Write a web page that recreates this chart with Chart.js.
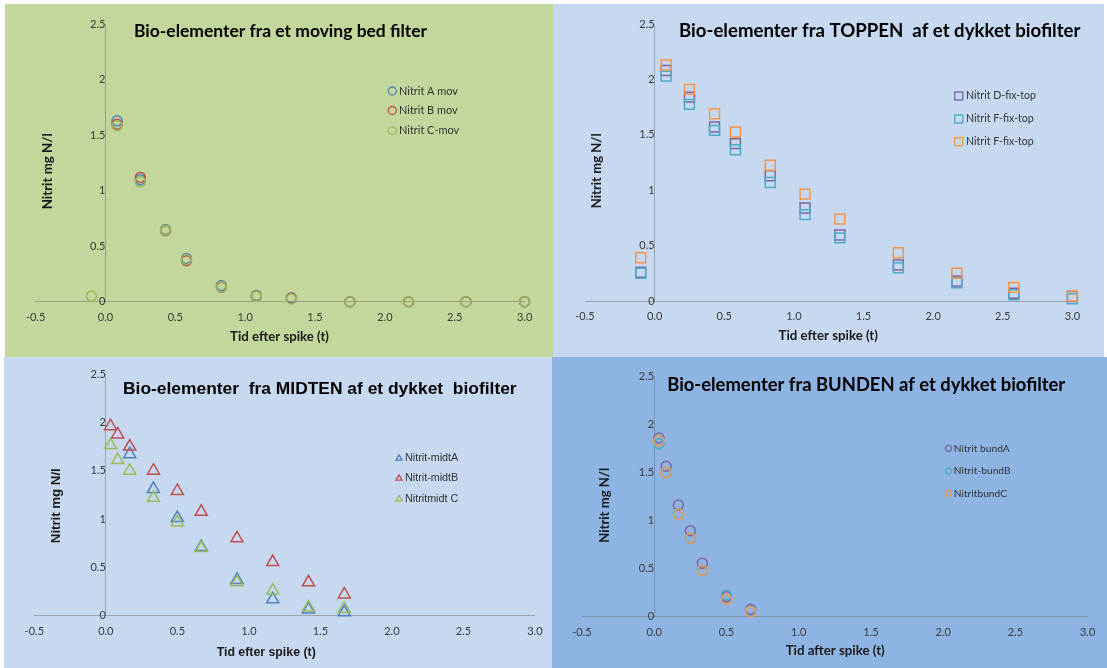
<!DOCTYPE html>
<html>
<head>
<meta charset="utf-8">
<script src="https://cdn.jsdelivr.net/npm/chart.js"></script>
<style>
  body { margin: 0; background: #fff; width: 1107px; height: 668px; overflow: hidden; position: relative; }
  .panel { position: absolute; }
  .panel canvas { position: absolute; left: 0; top: 0; }
</style>
</head>
<body>
<div class="panel" style="left:5px;top:4px;width:548px;height:353px;background:#c3d69b"><canvas id="c1" width="548" height="353"></canvas></div>
<div class="panel" style="left:553px;top:4px;width:551px;height:353px;background:#c6d9f1"><canvas id="c2" width="551" height="353"></canvas></div>
<div class="panel" style="left:4px;top:357px;width:548px;height:311px;background:#c6d9f1"><canvas id="c3" width="548" height="311"></canvas></div>
<div class="panel" style="left:552px;top:357px;width:555px;height:311px;background:#8db4e2"><canvas id="c4" width="555" height="311"></canvas></div>
<script>
// akser
var xTickVals = [-0.5, 0, 0.5, 1, 1.5, 2, 2.5, 3];
var yTickVals = [0, 0.5, 1, 1.5, 2, 2.5];

// moving bed
var tMov = [-0.1, 0.083, 0.25, 0.43, 0.58, 0.83, 1.08, 1.33, 1.75, 2.17, 2.58, 3.0];
var movNames = ['Nitrit A mov', 'Nitrit B mov', 'Nitrit C-mov'];
var movA = [null, 1.63, 1.10, 0.65, 0.39, 0.145, 0.057, 0.036, 0, 0, 0, 0];
var movB = [null, 1.60, 1.12, 0.64, 0.37, 0.13, 0.048, 0.03, 0, 0, 0, 0];
var movC = [0.05, 1.585, 1.08, 0.645, 0.38, 0.135, 0.048, 0.024, 0, 0, 0, 0];

// toppen
var tTop = [-0.1, 0.083, 0.25, 0.43, 0.58, 0.83, 1.08, 1.33, 1.75, 2.17, 2.58, 3.0];
var topNames = ['Nitrit D-fix-top', 'Nitrit F-fix-top', 'Nitrit F-fix-top'];
var topD = [0.26, 2.08, 1.84, 1.57, 1.42, 1.13, 0.84, 0.595, 0.325, 0.18, 0.07, 0.04];
var topE = [0.25, 2.03, 1.775, 1.54, 1.365, 1.07, 0.78, 0.57, 0.30, 0.165, 0.057, 0.02];
var topF = [0.39, 2.13, 1.91, 1.69, 1.525, 1.225, 0.965, 0.74, 0.435, 0.25, 0.123, 0.045];

// midten
var tMidt = [0.033, 0.083, 0.167, 0.333, 0.5, 0.667, 0.917, 1.167, 1.417, 1.667];
var midtNames = ['Nitrit-midtA', 'Nitrit-midtB', 'Nitritmidt C'];
var midtA = [null, null, 1.67, 1.31, 1.01, 0.71, 0.37, 0.17, 0.065, 0.035];
var midtB = [1.96, 1.875, 1.75, 1.50, 1.29, 1.075, 0.80, 0.555, 0.345, 0.22];
var midtC = [1.765, 1.61, 1.50, 1.22, 0.965, 0.70, 0.345, 0.26, 0.085, 0.07];

// bunden
var tBund = [0.033, 0.083, 0.167, 0.25, 0.333, 0.5, 0.667];
var bundNames = ['Nitrit bundA', 'Nitrit-bundB', 'NitritbundC'];
var bundA = [1.86, 1.565, 1.16, 0.89, 0.55, 0.20, 0.07];
var bundB = [1.80, 1.50, 1.07, 0.81, 0.475, 0.22, 0.056];
var bundC = [1.83, 1.50, 1.065, 0.81, 0.475, 0.175, 0.045];

var blueRedGreen = ['#4f81bd', '#c0504d', '#9bbb59'];
var purpleAquaOrange = ['#8064a2', '#4bacc6', '#f79646'];

function pts(xs, ys) {
  var out = [];
  for (var i = 0; i < xs.length; i++) {
    if (ys[i] !== null) out.push({ x: xs[i], y: ys[i] });
  }
  return out;
}

function fitSize(ctx, text, weight, family, width) {
  ctx.font = weight + ' 100px "' + family + '"';
  return 100 * width / ctx.measureText(text).width;
}

function marker(ctx, style, x, y, r, color) {
  ctx.beginPath();
  ctx.strokeStyle = color;
  ctx.lineWidth = 1.3;
  if (style === 'circle') ctx.arc(x, y, r, 0, Math.PI * 2);
  else if (style === 'rect') ctx.rect(x - r, y - r, 2 * r, 2 * r);
  else {
    ctx.moveTo(x, y - r);
    ctx.lineTo(x + r * 0.866, y + r * 0.5);
    ctx.lineTo(x - r * 0.866, y + r * 0.5);
    ctx.closePath();
  }
  ctx.stroke();
}

// titel, aksetitler og forklaring tegnes oven paa diagrammet
var panelText = {
  id: 'panelText',
  afterDraw: function (chart, args, o) {
    var ctx = chart.ctx, ox = o.ox, oy = o.oy, s;
    ctx.save();
    ctx.textBaseline = 'middle';
    ctx.textAlign = 'center';
    ctx.fillStyle = '#000';

    s = fitSize(ctx, o.title, 'bold', o.titleFont, o.titleBox[1] - o.titleBox[0]);
    ctx.font = 'bold ' + s + 'px "' + o.titleFont + '"';
    ctx.fillText(o.title, (o.titleBox[0] + o.titleBox[1]) / 2 - ox, o.titleBox[2] - oy);

    ctx.fillStyle = '#1a1a1a';
    s = fitSize(ctx, o.xTitle, 'bold', o.axisFont, o.xBox[1] - o.xBox[0]);
    ctx.font = 'bold ' + s + 'px "' + o.axisFont + '"';
    ctx.fillText(o.xTitle, (o.xBox[0] + o.xBox[1]) / 2 - ox, o.xBox[2] - oy);

    s = fitSize(ctx, 'Nitrit mg N/l', 'bold', o.axisFont, o.yBox[2]);
    ctx.font = 'bold ' + s + 'px "' + o.axisFont + '"';
    ctx.save();
    ctx.translate(o.yBox[0] - ox, o.yBox[1] - oy);
    ctx.rotate(-Math.PI / 2);
    ctx.fillText('Nitrit mg N/l', 0, 0);
    ctx.restore();

    var ds = chart.data.datasets;
    s = fitSize(ctx, ds[0].label, 'normal', o.legendFont, o.legend.tw);
    ctx.font = s + 'px "' + o.legendFont + '"';
    ctx.textAlign = 'left';
    ctx.fillStyle = '#333';
    for (var i = 0; i < ds.length; i++) {
      var y = o.legend.ys[i] - oy;
      marker(ctx, ds[i].pointStyle, o.legend.mx - ox, y, o.legend.r, ds[i].borderColor);
      ctx.fillText(ds[i].label, o.legend.tx - ox, y);
    }
    ctx.restore();
  }
};

function makeChart(id, panel, area, tickPad, xs, series, names, colors, style, radius, text) {
  var xh = 30;
  text.ox = panel.x;
  text.oy = panel.y;
  var datasets = series.map(function (ys, i) {
    return {
      label: names[i],
      data: pts(xs, ys),
      pointStyle: style,
      pointRadius: radius,
      pointHoverRadius: radius,
      borderColor: colors[i],
      backgroundColor: 'rgba(0,0,0,0)',
      pointBorderWidth: 1.5,
      showLine: false,
      clip: false,
      order: series.length - i
    };
  });
  return new Chart(document.getElementById(id), {
    type: 'scatter',
    data: { datasets: datasets },
    plugins: [panelText],
    options: {
      responsive: false,
      animation: false,
      events: [],
      layout: {
        padding: {
          left: area.L - panel.x,
          right: panel.x + panel.w - area.R,
          top: area.T - panel.y,
          bottom: panel.y + panel.h - area.B - xh
        }
      },
      scales: {
        x: {
          type: 'linear',
          position: 'bottom',
          min: xTickVals[0],
          max: xTickVals[xTickVals.length - 1],
          afterFit: function (s) { s.height = xh; },
          grid: { display: false, drawTicks: false },
          border: { display: true, color: 'rgba(110,110,110,0.5)', width: 1 },
          ticks: {
            stepSize: xTickVals[1] - xTickVals[0],
            padding: tickPad,
            color: '#3a3a3a',
            font: { family: 'Lato', size: 11 },
            maxRotation: 0,
            callback: function (v) { return Number(v).toFixed(1); }
          }
        },
        y: {
          type: 'linear',
          position: { x: 0 },
          min: yTickVals[0],
          max: yTickVals[yTickVals.length - 1],
          grid: { display: false, drawTicks: false },
          border: { display: true, color: 'rgba(110,110,110,0.5)', width: 1 },
          ticks: {
            stepSize: yTickVals[1] - yTickVals[0],
            padding: 10,
            color: '#3a3a3a',
            font: { family: 'Lato', size: 11 },
            callback: function (v) { return String(v); }
          }
        }
      },
      plugins: {
        legend: { display: false },
        tooltip: { enabled: false },
        panelText: text
      }
    }
  });
}

makeChart('c1', { x: 5, y: 4, w: 548, h: 353 }, { L: 35.6, R: 524.6, T: 24.3, B: 301.7 }, 9,
  tMov, [movA, movB, movC], movNames, blueRedGreen, 'circle', 5, {
    title: 'Bio-elementer fra et moving bed filter', titleFont: 'Lato', titleBox: [133.8, 427.3, 31],
    axisFont: 'Lato', xTitle: 'Tid efter spike (t)', xBox: [230, 329, 336.7], yBox: [47.8, 171.3, 76],
    legendFont: 'Lato', legend: { mx: 392.3, tx: 399, tw: 59, r: 4, ys: [91, 110.5, 130.7] }
  });

makeChart('c2', { x: 553, y: 4, w: 551, h: 353 }, { L: 585, R: 1072.4, T: 24, B: 301 }, 8.4,
  tTop, [topD, topE, topF], topNames, purpleAquaOrange, 'rect', 7, {
    title: 'Bio-elementer fra TOPPEN  af et dykket biofilter', titleFont: 'Lato', titleBox: [678.9, 1080.5, 30.7],
    axisFont: 'Lato', xTitle: 'Tid efter spike (t)', xBox: [778.5, 878, 336], yBox: [596.5, 170.8, 75],
    legendFont: 'Lato', legend: { mx: 958.7, tx: 966, tw: 70, r: 4, ys: [96, 119, 141.7] }
  });

makeChart('c3', { x: 4, y: 357, w: 548, h: 311 }, { L: 34.3, R: 536.3, T: 374, B: 615.7 }, 9.4,
  tMidt, [midtA, midtB, midtC], midtNames, blueRedGreen, 'triangle', 7, {
    title: 'Bio-elementer  fra MIDTEN af et dykket  biofilter', titleFont: 'Liberation Sans', titleBox: [122.8, 516.8, 389.3],
    axisFont: 'Liberation Sans', xTitle: 'Tid efter spike (t)', xBox: [216.6, 315.8, 652.7], yBox: [56.6, 505.7, 75],
    legendFont: 'Liberation Sans', legend: { mx: 399, tx: 405, tw: 53.3, r: 3.5, ys: [458.3, 478.3, 499] }
  });

makeChart('c4', { x: 552, y: 357, w: 555, h: 311 }, { L: 582, R: 1087.6, T: 376.7, B: 616 }, 10.1,
  tBund, [bundA, bundB, bundC], bundNames, purpleAquaOrange, 'circle', 5, {
    title: 'Bio-elementer fra BUNDEN af et dykket biofilter', titleFont: 'Lato', titleBox: [667, 1065.4, 385],
    axisFont: 'Lato', xTitle: 'Tid after spike (t)', xBox: [785.6, 884.8, 651], yBox: [604.3, 505.3, 75],
    legendFont: 'Lato', legend: { mx: 948.5, tx: 953.8, tw: 56, r: 3, ys: [448.3, 471, 493.3] }
  });
</script>
</body>
</html>
